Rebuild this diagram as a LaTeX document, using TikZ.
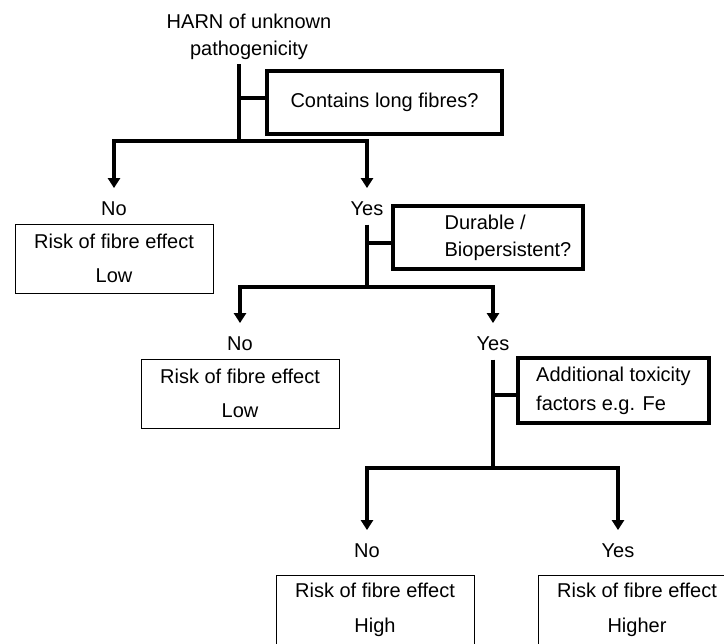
\documentclass[tikz,border=0pt]{standalone}
\usepackage{fontspec}
\setmainfont{Liberation Sans}
\usetikzlibrary{arrows.meta}
\tikzset{
  stemline/.style={line width=2.5pt},
  arr/.style={line width=2.5pt, -{Triangle[width=9pt,length=7.5pt]}, shorten >=9pt},
  qbox/.style={draw, line width=2.4pt, align=left, font=\fontsize{15}{20}\selectfont},
  rbox/.style={draw, line width=0.75pt, align=center, minimum width=148.5pt, minimum height=51.75pt, font=\fontsize{15}{26}\selectfont},
  answer/.style={inner sep=0pt, text height=11pt, text depth=3pt, anchor=base, font=\fontsize{15}{18}\selectfont}
}
\begin{document}
\begin{tikzpicture}[x=0.75pt,y=0.75pt,yscale=-1,xscale=1]
    \useasboundingbox (0,0) rectangle (724,643);
    \clip (0,0) rectangle (724,643);

    %Text: start
    \node[align=center, anchor=south, font=\fontsize{15}{20}\selectfont] (harn) at (249,64) {HARN of unknown\\pathogenicity};

    %Junctions
    \coordinate (t1) at (239,98);
    \coordinate (j1) at (239,141);
    \coordinate (t2) at (367,243);
    \coordinate (j2) at (367,287);
    \coordinate (t3) at (493,395);
    \coordinate (j3) at (493,468);

    %Shape: Rectangle [questions]
    \node[qbox, minimum width=176.25pt, minimum height=47.25pt] (q1) at (384.5,102.5) {Contains long fibres?};
    \node[qbox, minimum width=142.5pt, minimum height=47.25pt] (q2) at (488,237.5) {\hspace*{30pt}Durable /\\\hspace*{30pt}Biopersistent?};
    \node[qbox, minimum width=143.25pt, minimum height=48.75pt, font=\fontsize{15}{22}\selectfont] (q3) at (613.5,390.5) {Additional toxicity\\factors e.g. Fe};

    %Text: answers
    \node[answer] (no1) at (114,215) {No};
    \node[answer] (yes1) at (367,215) {Yes};
    \node[answer] (no2) at (240,350) {No};
    \node[answer] (yes2) at (493,350) {Yes};
    \node[answer] (no3) at (367,557) {No};
    \node[answer] (yes3) at (618,557) {Yes};

    %Shape: Rectangle [results]
    \node[rbox] (r1) at (114,258.5) {Risk of fibre effect\\Low};
    \node[rbox] (r2) at (240,393.5) {Risk of fibre effect\\Low};
    \node[rbox] (r3) at (375,609.5) {Risk of fibre effect\\High};
    \node[rbox] (r4) at (637,609.5) {Risk of fibre effect\\Higher};

    %Straight Lines [level 1]
    \draw[stemline] (harn.south -| j1) -- (j1);
    \draw[stemline] (t1) -- (t1 -| q1.west);
    \draw[arr] (j1) -| (no1.north);
    \draw[arr] (j1) -| (yes1.north);
    %Straight Lines [level 2]
    \draw[stemline, shorten <=4pt] (yes1.south) -- (j2);
    \draw[stemline] (t2) -- (t2 -| q2.west);
    \draw[arr] (j2) -| (no2.north);
    \draw[arr] (j2) -| (yes2.north);
    %Straight Lines [level 3]
    \draw[stemline, shorten <=4pt] (yes2.south) -- (j3);
    \draw[stemline] (t3) -- (t3 -| q3.west);
    \draw[arr] (j3) -| (no3.north);
    \draw[arr] (j3) -| (yes3.north);

\end{tikzpicture}
\end{document}
